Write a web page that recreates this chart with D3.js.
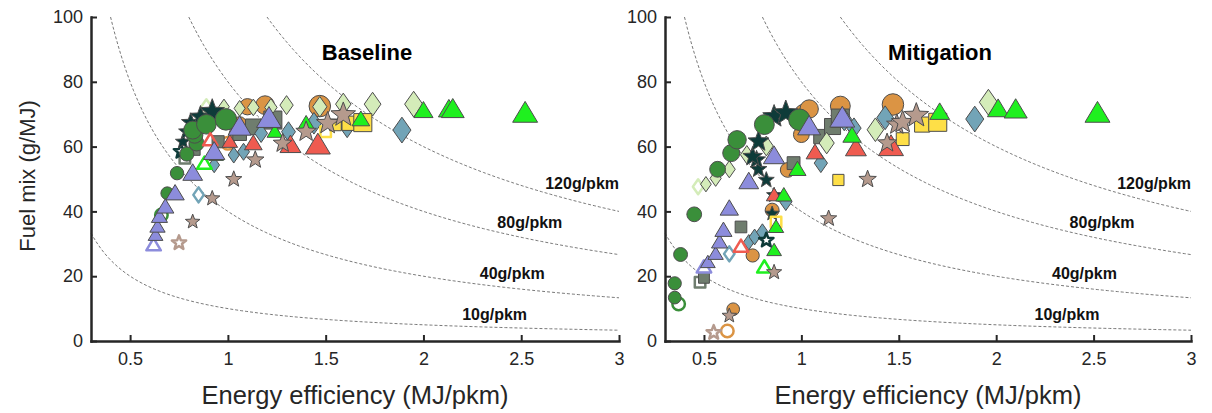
<!DOCTYPE html>
<meta charset="utf-8">
<style>
    body { margin: 0; background: #fff; }
    text { font-family: Arial, "Liberation Sans", sans-serif; fill: #262626; }
    .axis text { font-size: 18px; }
    .axis path { stroke: #262626; stroke-width: 2.5; }
    .axis line { stroke: #262626; stroke-width: 2; }
    .iso { fill: none; stroke: #555; stroke-width: 0.8; stroke-dasharray: 3,2; }
    .iso-label { font-weight: bold; font-size: 16px; fill: #111; }
    .title { font-weight: bold; font-size: 22px; fill: #000; }
    .x-title { font-size: 25.5px; }
    .y-title { font-size: 22px; }
</style>
<body>
<svg id="chart" width="1212" height="413"></svg>
<script src="https://cdn.jsdelivr.net/npm/d3@7/dist/d3.min.js"></script>
<script>
// tick labels
var xTicks = [0.5, 1, 1.5, 2, 2.5, 3];
var yTicks = [0, 20, 40, 60, 80, 100];
var isoLevels = [10, 40, 80, 120];
var isoLabels = ["10g/pkm", "40g/pkm", "80g/pkm", "120g/pkm"];

// Baseline: [energy efficiency, fuel mix]
var baseOrangeCircle = [[1.00,61],[1.04,64],[1.06,67],[1.10,72.3],[1.19,72.8],[1.47,72.5]];
var baseGraySquare = [[0.78,56.4],[0.83,59],[0.95,61.5],[1.06,64],[1.13,66.1],[1.23,68.2]];
var baseBlueDiamond = [[0.85,45.1],[0.93,54.3],[1.03,57.4],[1.08,58.4],[1.17,64.1],[1.31,64.6],[1.44,67.2],[1.61,66.4],[1.89,65.1]];
var baseLightDiamond = [[0.89,72.3],[0.98,72.3],[1.06,71.8],[1.13,72.1],[1.22,72.1],[1.30,72.8],[1.47,72.3],[1.59,73.1],[1.74,73.1],[1.95,73.1]];
var baseDarkStar = [[0.76,58.5],[0.77,61.5],[0.79,64.6],[0.81,67.4],[0.86,69.2],[0.92,70.8]];
var baseGreenCircle = [[0.66,38.9],[0.69,45.6],[0.74,51.8],[0.79,57.7],[0.84,61],[0.83,63.6],[0.82,65.1],[0.89,66.9],[0.99,68.4]];
var baseYellowSquare = [[1.50,64.6],[1.55,66.7],[1.62,67.2],[1.69,67.4]];
var baseRedTriangle = [[0.91,62],[1.01,61.5],[1.13,61],[1.32,60.5],[1.46,60.5]];
var baseGreenTriangle = [[0.88,54.8],[0.94,57.4],[1.24,64.6],[1.40,67.2],[1.68,68.4],[2.0,71.1],[2.13,71.5],[2.15,71.5],[2.52,70.3]];
var baseLavenderTriangle = [[0.62,29.6],[0.63,32.7],[0.64,35.3],[0.65,38.4],[0.68,41.4],[0.73,45.6],[0.82,51.8],[0.93,58.4],[1.06,66.1],[1.21,68.7]];
var baseBrownStar = [[0.75,30.3],[0.82,36.8],[0.92,44],[1.03,49.9],[1.14,55.9],[1.28,61],[1.40,64.6],[1.51,67.2],[1.59,69.8]];

// Mitigation
var mitOrangeCircle = [[0.62,3.1],[0.65,9.8],[0.75,26.4],[0.85,40.4],[0.93,52.8],[1.0,63.7],[1.01,70.4],[1.04,71.6],[1.20,72.5],[1.47,73]];
var mitGraySquare = [[0.48,18.1],[0.50,19.5],[0.69,35.2],[0.96,54.9],[1.10,63.1],[1.16,66.2],[1.20,68.8]];
var mitBlueDiamond = [[0.63,26.9],[0.73,30.5],[0.76,32.1],[0.80,33.6],[0.92,43],[1.10,54.9],[1.27,65.7],[1.22,68.3],[1.43,68.9],[1.89,68.5]];
var mitLightDiamond = [[0.47,47.6],[0.51,48.4],[0.56,50.2],[0.63,53],[0.72,57.5],[0.82,60.2],[1.13,61.1],[1.38,65.2],[1.96,73.7]];
var mitDarkStar = [[0.82,31.1],[0.85,39.3],[0.86,45],[0.82,49.7],[0.78,53],[0.77,55.9],[0.75,56.9],[0.78,61.6],[0.86,69.3],[0.92,70.4]];
var mitGreenCircle = [[0.37,11.4],[0.35,13.4],[0.35,17.8],[0.38,26.7],[0.45,39.1],[0.57,53],[0.64,58],[0.67,62.1],[0.81,66.8],[0.99,68.3]];
var mitYellowSquare = [[0.87,36.7],[1.19,49.7],[1.52,62.3],[1.62,66.8],[1.70,67.5]];
var mitRedTriangle = [[0.69,29.2],[0.86,45],[1.07,58.2],[1.28,59.5],[1.46,60]];
var mitGreenTriangle = [[0.81,22.8],[0.86,28],[0.87,35.2],[0.91,45],[0.98,53],[1.26,63.4],[1.71,70.6],[2.01,71.6],[2.10,71.4],[2.52,70.3]];
var mitLavenderTriangle = [[0.50,22.8],[0.52,24.3],[0.56,26.9],[0.58,30.5],[0.60,34.2],[0.63,40.9],[0.73,49.2],[0.86,57.1],[1.04,66.2],[1.21,68.8]];
var mitBrownStar = [[0.55,2.6],[0.63,7.8],[0.86,21.2],[1.14,37.8],[1.34,49.9],[1.44,61.1],[1.49,66.8],[1.52,67.5],[1.59,69.6]];

// marker style per group, in drawing order
var groups = [
    {shape: "circle", color: "#db9444"},
    {shape: "square", color: "#6f7d6e"},
    {shape: "diamond", color: "#72a4b7"},
    {shape: "diamond", color: "#d4ecb9"},
    {shape: "star", color: "#0e3b39"},
    {shape: "circle", color: "#3a8f3a"},
    {shape: "square", color: "#fedf47"},
    {shape: "triangle", color: "#ef5b50"},
    {shape: "triangle", color: "#1ff01f"},
    {shape: "triangle", color: "#8c8cdc"},
    {shape: "star", color: "#b59a8d"}
];
var baseline = [baseOrangeCircle, baseGraySquare, baseBlueDiamond, baseLightDiamond, baseDarkStar,
    baseGreenCircle, baseYellowSquare, baseRedTriangle, baseGreenTriangle, baseLavenderTriangle, baseBrownStar];
var mitigation = [mitOrangeCircle, mitGraySquare, mitBlueDiamond, mitLightDiamond, mitDarkStar,
    mitGreenCircle, mitYellowSquare, mitRedTriangle, mitGreenTriangle, mitLavenderTriangle, mitBrownStar];

function markerPath(shape, s) {
    if (shape === "circle") {
        var r = s / 2;
        return "M" + r + ",0A" + r + "," + r + " 0 1,1 " + (-r) + ",0A" + r + "," + r + " 0 1,1 " + r + ",0Z";
    }
    if (shape === "square") {
        var h = s * 0.42;
        return "M" + (-h) + "," + (-h) + "H" + h + "V" + h + "H" + (-h) + "Z";
    }
    if (shape === "diamond") {
        var w = s * 0.42, v = s * 0.6;
        return "M0," + (-v) + "L" + w + ",0L0," + v + "L" + (-w) + ",0Z";
    }
    if (shape === "triangle") {
        var tw = s * 0.58;
        return "M0," + (-s * 0.55) + "L" + tw + "," + (s * 0.42) + "L" + (-tw) + "," + (s * 0.42) + "Z";
    }
    // star
    var R = s * 0.6, ri = R * 0.42, pts = [];
    for (var k = 0; k < 10; k++) {
        var a = -Math.PI / 2 + k * Math.PI / 5, rr = k % 2 ? ri : R;
        pts.push([rr * Math.cos(a), rr * Math.sin(a)]);
    }
    return "M" + pts.join("L") + "Z";
}

var svg = d3.select("#chart");

function drawPanel(x0, x1, title, series, showYLabel) {
    var x = d3.scaleLinear().domain([0.3, 3]).range([x0, x1]);
    var y = d3.scaleLinear().domain([0, 100]).range([341, 17]);
    var g = svg.append("g");

    // iso-emission curves (g/pkm = MJ/pkm * g/MJ)
    var line = d3.line().x(function(d) { return x(d[0]); }).y(function(d) { return y(d[1]); });
    isoLevels.forEach(function(c) {
        var start = Math.max(0.3, c / 100);
        var pts = d3.range(0, 201).map(function(k) {
            var ex = start + (3 - start) * k / 200;
            return [ex, c / ex];
        });
        g.append("path").attr("class", "iso").attr("d", line(pts));
    });
    var labelX = [2.53, 2.62, 2.71, 3.0], labelY = [8.3, 20.8, 36.6, 48.6];
    isoLabels.forEach(function(t, i) {
        g.append("text").attr("class", "iso-label")
            .attr("x", x(labelX[i])).attr("y", y(labelY[i]))
            .attr("dy", "0.35em").attr("text-anchor", "end").text(t);
    });

    // markers, later years drawn larger
    series.forEach(function(pts, gi) {
        var st = groups[gi];
        var size = d3.scalePow().exponent(1.7).domain([0, pts.length - 1]).range([12.5, 21.5]);
        g.append("g").selectAll("path")
            .data(pts)
            .enter().append("path")
            .attr("transform", function(d) { return "translate(" + x(d[0]) + "," + y(d[1]) + ")"; })
            .attr("d", function(d, i) { return markerPath(st.shape, size(i)); })
            .style("fill", function(d, i) { return i === 0 ? "none" : st.color; })
            .style("stroke", function(d, i) { return i === 0 ? st.color : "#4d4d4d"; })
            .style("stroke-width", function(d, i) { return i === 0 ? 2.5 : 1; })
            .style("stroke-linejoin", "round");
    });

    g.append("g").attr("class", "axis")
        .attr("transform", "translate(0,341)")
        .call(d3.axisBottom(x).tickValues(xTicks).tickSize(-6).tickSizeOuter(0).tickPadding(11)
            .tickFormat(d3.format("")));
    g.append("g").attr("class", "axis")
        .attr("transform", "translate(" + x0 + ",0)")
        .call(d3.axisLeft(y).tickValues(yTicks).tickSize(-6).tickSizeOuter(0).tickPadding(8));
    g.selectAll(".axis .domain").attr("stroke-linecap", "square");

    g.append("text").attr("class", "title")
        .attr("x", (x0 + x1) / 2 + 12).attr("y", 60)
        .attr("text-anchor", "middle").text(title);
    g.append("text").attr("class", "x-title")
        .attr("x", (x0 + x1) / 2).attr("y", 404)
        .attr("text-anchor", "middle").text("Energy efficiency (MJ/pkm)");
    if (showYLabel) {
        g.append("text").attr("class", "y-title")
            .attr("transform", "translate(35,176) rotate(-90)")
            .attr("text-anchor", "middle").text("Fuel mix (g/MJ)");
    }
}

drawPanel(91, 619, "Baseline", baseline, true);
drawPanel(665, 1191, "Mitigation", mitigation, false);
</script>
</body>
